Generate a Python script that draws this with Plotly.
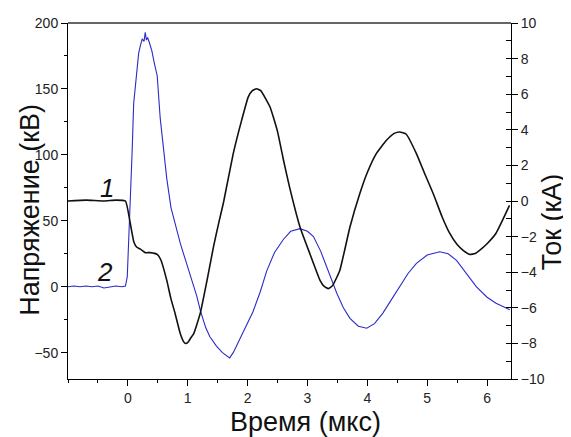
import plotly.graph_objects as go

# Curve 2 (blue): voltage, kV, left axis
t_voltage = [-1.0, -0.9, -0.8, -0.7, -0.6, -0.5, -0.4, -0.3, -0.2, -0.1, -0.04, -0.01,
             0.025, 0.053, 0.07, 0.097, 0.12, 0.14, 0.18, 0.21, 0.24, 0.27, 0.29, 0.31,
             0.33, 0.36, 0.40, 0.44, 0.49, 0.54, 0.60, 0.65, 0.72, 0.79, 0.875, 0.95,
             1.01, 1.08, 1.15, 1.21, 1.30, 1.37, 1.48, 1.58, 1.65, 1.70, 1.76, 1.87,
             1.98, 2.09, 2.21, 2.32, 2.45, 2.60, 2.72, 2.875, 3.0, 3.10, 3.22, 3.32,
             3.40, 3.49, 3.60, 3.71, 3.85, 3.99, 4.12, 4.26, 4.40, 4.54, 4.68, 4.82,
             5.0, 5.21, 5.35, 5.49, 5.65, 5.82, 6.0, 6.15, 6.38]
voltage = [0, 0.5, 0, 0.5, 0, 0.5, -1, 0, 0.5, 0, 0.5, 7.6,
           43, 81, 101, 139, 150, 159, 177, 183, 188, 186, 193, 187,
           189, 185, 179, 170, 160, 128, 101, 82, 60, 47, 33, 22,
           13, 3, -7, -18, -31, -38, -45, -50, -52, -54, -50, -40,
           -29, -19, -4, 12, 26, 36, 42, 44, 42, 38, 27, 15,
           5, -5, -16, -24, -30, -31.5, -28, -20, -10, 0, 10, 17.7,
           24, 26.5, 25, 20, 10, 0, -8, -12.6, -17.5]

# Curve 1 (black): current, kA, right axis
t_current = [-1.0, -0.7, -0.4, -0.2, -0.04, 0.04, 0.10, 0.15, 0.21, 0.29, 0.375, 0.49,
             0.55, 0.65, 0.72, 0.79, 0.875, 0.93, 0.96, 1.0, 1.05, 1.10, 1.21, 1.32,
             1.43, 1.52, 1.60, 1.76, 1.90, 2.01, 2.08, 2.15, 2.22, 2.375, 2.50, 2.60,
             2.70, 2.875, 3.04, 3.21, 3.28, 3.35, 3.42, 3.54, 3.71, 3.875, 4.0, 4.15,
             4.32, 4.45, 4.54, 4.65, 4.82, 4.95, 5.10, 5.25, 5.375, 5.50, 5.60, 5.71,
             5.80, 5.875, 6.0, 6.15, 6.375]
current = [0, 0.05, 0, 0.05, 0, -1.25, -2.3, -2.6, -2.7, -2.9, -2.9, -3.0,
           -3.3, -4.46, -5.5, -6.33, -7.45, -7.9, -8.0, -7.95, -7.7, -7.45, -6.3, -4.5,
           -2.58, -1.2, -0.04, 2.66, 4.53, 5.84, 6.2, 6.31, 6.2, 5.28, 3.9, 2.29,
           0.79, -1.46, -2.96, -4.46, -4.8, -4.92, -4.75, -3.9, -1.46, 0.42, 1.6, 2.66,
           3.41, 3.8, 3.88, 3.75, 2.66, 1.6, 0.42, -0.9, -1.81, -2.45, -2.77, -3.0,
           -2.95, -2.77, -2.4, -1.81, -0.25]

x_ticks = [0, 1, 2, 3, 4, 5, 6]
v_ticks = [-50, 0, 50, 100, 150, 200]
i_ticks = [-10, -8, -6, -4, -2, 0, 2, 4, 6, 8, 10]

font = "Liberation Sans, Arial, sans-serif"

fig = go.Figure()
fig.add_trace(go.Scatter(x=t_voltage, y=voltage, mode="lines",
                         line=dict(color="#2b2bc8", width=1.1),
                         yaxis="y", showlegend=False))
fig.add_trace(go.Scatter(x=t_current, y=current, mode="lines",
                         line=dict(color="#111111", width=1.6, shape="spline", smoothing=0.4),
                         yaxis="y2", showlegend=False))

# page body adds an 8px offset, so the figure is 8px smaller and margins shifted
fig.update_layout(
    width=563, height=429,
    margin=dict(l=60, r=60, t=15, b=58),
    paper_bgcolor="white", plot_bgcolor="white",
    font=dict(family=font, color="#222222"),
    xaxis=dict(range=[-1.0, 6.4], tickvals=x_ticks, ticks="outside", ticklen=6,
               tickcolor="black", showline=True, linecolor="black", linewidth=1,
               showgrid=False, zeroline=False, tickfont=dict(size=14), automargin=False,
               minor=dict(dtick=0.5, ticks="outside", ticklen=3, tickcolor="black")),
    yaxis=dict(range=[-70, 200], tickvals=v_ticks, ticks="outside", ticklen=6,
               tickcolor="black", showline=True, linecolor="black", linewidth=1,
               showgrid=False, zeroline=False, tickfont=dict(size=14), automargin=False,
               minor=dict(dtick=25, tick0=0, ticks="outside", ticklen=3, tickcolor="black")),
    yaxis2=dict(range=[-10, 10], tickvals=i_ticks, overlaying="y", side="right",
                ticks="outside", ticklen=6, tickcolor="black", showline=True,
                linecolor="black", linewidth=1, showgrid=False, zeroline=False,
                tickfont=dict(size=14), automargin=False,
                minor=dict(dtick=1, tick0=0, ticks="inside", ticklen=5, tickcolor="black")),
    yaxis3=dict(range=[-10, 10], tickvals=i_ticks, overlaying="y", side="right",
                ticks="inside", ticklen=6, tickcolor="black", showticklabels=False,
                showline=False, showgrid=False, zeroline=False, automargin=False),
)

fig.add_shape(type="line", xref="paper", yref="paper", x0=0, x1=1, y0=1, y1=1,
              line=dict(color="#666666", width=2))

# axis titles
fig.add_annotation(x=-0.086, y=0.475, xref="paper", yref="paper", text="Напряжение (кВ)",
                   xanchor="center", yanchor="middle",
                   textangle=-90, showarrow=False, font=dict(size=27, family=font, color="#111111"))
fig.add_annotation(x=1.093, y=0.441, xref="paper", yref="paper", text="Ток (кА)",
                   xanchor="center", yanchor="middle",
                   textangle=-90, showarrow=False, font=dict(size=27, family=font, color="#111111"))
fig.add_annotation(x=0.537, y=-0.121, xref="paper", yref="paper", text="Время (мкс)",
                   xanchor="center", yanchor="middle",
                   showarrow=False, font=dict(size=27, family=font, color="#111111"))

fig.add_annotation(x=-0.35, y=75, xref="x", yref="y", text="<i>1</i>", showarrow=False,
                   font=dict(size=26, family=font, color="#111111"))
fig.add_annotation(x=-0.39, y=11, xref="x", yref="y", text="<i>2</i>", showarrow=False,
                   font=dict(size=26, family=font, color="#111111"))

fig.write_html("out.html")
